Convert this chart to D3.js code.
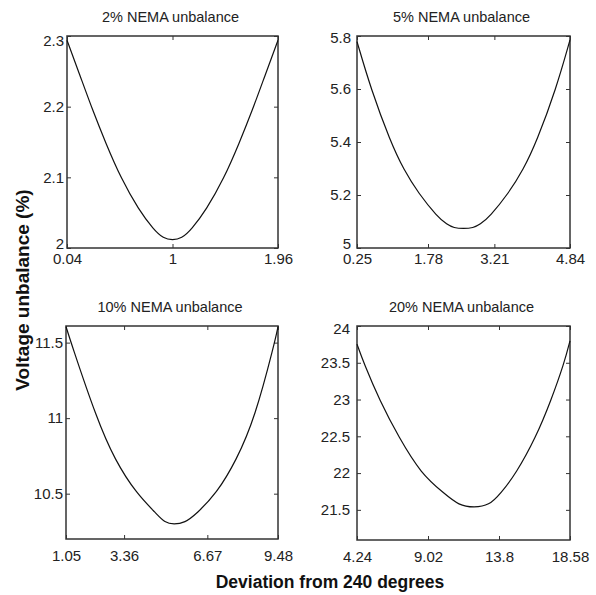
<!DOCTYPE html>
<html>
<head>
<meta charset="utf-8">
<script src="https://cdn.jsdelivr.net/npm/d3@7"></script>
<style>
  body { margin: 0; background: #fff; }
  svg { display: block; }
  .tick text { font-family: "Liberation Sans", Arial, sans-serif; font-size: 15px; fill: #222; }
  .title { font-family: "Liberation Sans", Arial, sans-serif; font-size: 14.5px; fill: #222; }
  .lab { font-family: "Liberation Sans", Arial, sans-serif; font-weight: bold; fill: #111; }
</style>
</head>
<body>
<script>
// titles of the four sub plots
var titles = ["2% NEMA unbalance", "5% NEMA unbalance", "10% NEMA unbalance", "20% NEMA unbalance"];

// tick labels
var xTicks1 = [0.04, 1, 1.96],
    xTicks2 = [0.25, 1.78, 3.21, 4.84],
    xTicks3 = [1.05, 3.36, 6.67, 9.48],
    xTicks4 = [4.24, 9.02, 13.8, 18.58];
var yTicks1 = [2, 2.1, 2.2, 2.3],
    yTicks2 = [5, 5.2, 5.4, 5.6, 5.8],
    yTicks3 = [10.5, 11, 11.5],
    yTicks4 = [21.5, 22, 22.5, 23, 23.5, 24];

// axis ranges
var xDom1 = [0.04, 1.96], yDom1 = [2, 2.3],
    xDom2 = [0.25, 4.84], yDom2 = [5, 5.8],
    xDom3 = [1.05, 9.48], yDom3 = [10.2, 11.61],
    xDom4 = [4.24, 18.58], yDom4 = [21.09, 24];

// curves
var x1 = [0.04, 0.161, 0.273, 0.394, 0.530, 0.693, 0.829, 0.917, 1.0, 1.083, 1.171, 1.307, 1.470, 1.606, 1.727, 1.839, 1.96],
    y1 = [2.294, 2.243, 2.195, 2.148, 2.099, 2.054, 2.026, 2.0135, 2.011, 2.0135, 2.026, 2.054, 2.099, 2.148, 2.195, 2.243, 2.294];
var x2 = [0.25, 0.552, 0.969, 1.257, 1.581, 1.977, 2.193, 2.335, 2.545, 2.755, 2.897, 3.113, 3.509, 3.833, 4.121, 4.538, 4.84],
    y2 = [5.779, 5.599, 5.402, 5.295, 5.205, 5.119, 5.088, 5.076, 5.073, 5.076, 5.088, 5.119, 5.205, 5.295, 5.402, 5.599, 5.785];
var x3 = [1.05, 1.249, 2.268, 2.995, 3.857, 4.651, 4.98, 5.338, 5.774, 6.238, 7.032, 7.826, 8.554, 9.348, 9.48],
    y3 = [11.606, 11.5, 10.998, 10.721, 10.5, 10.367, 10.307, 10.296, 10.307, 10.367, 10.5, 10.721, 10.998, 11.5, 11.606];
var x4 = [4.24, 4.69, 5.771, 7.054, 8.562, 10.093, 11.106, 12.119, 13.13, 13.92, 14.933, 16.284, 17.297, 18.198, 18.58],
    y4 = [23.753, 23.5, 22.984, 22.486, 21.989, 21.726, 21.558, 21.532, 21.558, 21.726, 21.989, 22.486, 22.984, 23.5, 23.799];

var width = 596,
    height = 595;

var svg = d3.select("body").append("svg")
    .attr("width", width)
    .attr("height", height);

// box of each panel: left, top, right, bottom
var panels = [
  {title: titles[0], xs: x1, ys: y1, xd: xDom1, yd: yDom1, xt: xTicks1, yt: yTicks1, box: [67, 36, 278, 248], ygap: 3, xlab: 17, lo: -4, hi: 5},
  {title: titles[1], xs: x2, ys: y2, xd: xDom2, yd: yDom2, xt: xTicks2, yt: yTicks2, box: [357, 36, 570, 248], ygap: 6, xlab: 17, lo: -4, hi: 2},
  {title: titles[2], xs: x3, ys: y3, xd: xDom3, yd: yDom3, xt: xTicks3, yt: yTicks3, box: [66, 326, 278, 539], ygap: 3, xlab: 23, lo: 0, hi: 0},
  {title: titles[3], xs: x4, ys: y4, xd: xDom4, yd: yDom4, xt: xTicks4, yt: yTicks4, box: [357, 326, 570, 540], ygap: 7, xlab: 23, lo: 0, hi: 3}
];

panels.forEach(function(p) {
  var l = p.box[0], t = p.box[1], r = p.box[2], b = p.box[3];
  var x = d3.scaleLinear().domain(p.xd).range([l, r]);
  var y = d3.scaleLinear().domain(p.yd).range([b, t]);
  var g = svg.append("g");

  // bottom axis with labels
  var bx = g.append("g").attr("transform", "translate(0," + b + ")")
      .call(d3.axisBottom(x).tickValues(p.xt).tickFormat(String).tickSizeInner(-4).tickSizeOuter(0));
  bx.selectAll("text").attr("y", p.xlab - 6).attr("dy", "0.35em");
  // top axis, ticks only
  g.append("g").attr("transform", "translate(0," + t + ")")
      .call(d3.axisTop(x).tickValues(p.xt).tickFormat("").tickSizeInner(-4).tickSizeOuter(0));
  // left axis with labels
  var ly = g.append("g").attr("transform", "translate(" + l + ",0)")
      .call(d3.axisLeft(y).tickValues(p.yt).tickFormat(String).tickSizeInner(-4).tickSizeOuter(0));
  ly.selectAll("text")
      .attr("x", -p.ygap)
      .attr("y", function(d) {
        if (d === p.yt[0] && d === p.yd[0]) return p.lo;
        if (d === p.yt[p.yt.length - 1]) return p.hi;
        return 0;
      });
  // right axis, ticks only
  g.append("g").attr("transform", "translate(" + r + ",0)")
      .call(d3.axisRight(y).tickValues(p.yt).tickFormat("").tickSizeInner(-4).tickSizeOuter(0));

  g.selectAll(".domain").remove();
  g.selectAll(".tick line").attr("stroke", "#333");

  // box
  g.append("rect")
      .attr("x", l).attr("y", t)
      .attr("width", r - l).attr("height", b - t)
      .attr("fill", "none")
      .attr("stroke", "#333")
      .attr("stroke-width", 1.5);

  // the curve
  var pts = p.xs.map(function(d, i) { return [d, p.ys[i]]; });
  g.append("path")
      .datum(pts)
      .attr("fill", "none")
      .attr("stroke", "#111")
      .attr("stroke-width", 1.2)
      .attr("d", d3.line()
          .x(function(d) { return x(d[0]); })
          .y(function(d) { return y(d[1]); })
          .curve(d3.curveBasis));

  g.append("text")
      .attr("class", "title")
      .attr("x", (l + r) / 2 - 2)
      .attr("y", t - 14)
      .attr("text-anchor", "middle")
      .text(p.title);
});

// shared axis labels
svg.append("text")
    .attr("class", "lab")
    .attr("transform", "translate(29,290) rotate(-90)")
    .attr("text-anchor", "middle")
    .style("font-size", "19px")
    .text("Voltage unbalance (%)");

svg.append("text")
    .attr("class", "lab")
    .attr("x", 330)
    .attr("y", 588)
    .attr("text-anchor", "middle")
    .style("font-size", "17.5px")
    .text("Deviation from 240 degrees");
</script>
</body>
</html>
